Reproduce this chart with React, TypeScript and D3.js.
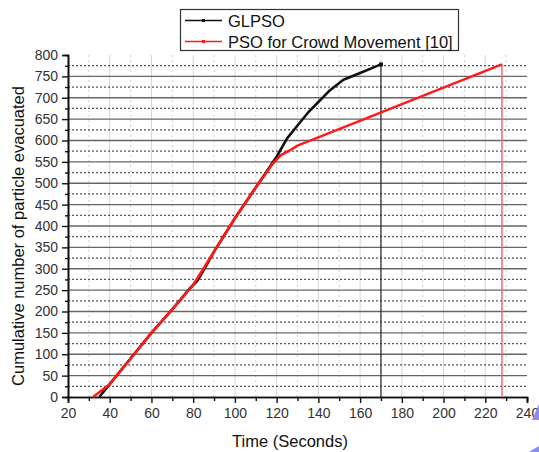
import React, { useEffect, useRef } from 'react';
import * as d3 from 'd3';

// GLPSO series (time in seconds, cumulative evacuated)
const glpsoTime = [35, 40, 50, 60, 70, 78, 82, 86, 90, 100, 110, 120, 125, 130, 135, 140, 145, 152, 160, 170];
const glpsoCount = [0, 30, 90, 150, 205, 252, 272, 305, 340, 418, 490, 562, 605, 635, 665, 690, 715, 742, 758, 778];

// PSO for Crowd Movement [10]
const psoTime = [32, 40, 50, 60, 70, 80, 90, 100, 110, 118, 122, 126, 130, 228];
const psoCount = [0, 30, 90, 150, 205, 262, 340, 418, 490, 545, 566, 576, 588, 778];

const xTicks = [20, 40, 60, 80, 100, 120, 140, 160, 180, 200, 220, 240];
const yTicks = [0, 50, 100, 150, 200, 250, 300, 350, 400, 450, 500, 550, 600, 650, 700, 750, 800];

const seriesNames = ['GLPSO', 'PSO for Crowd Movement [10]'];

export default function App() {
  const svgRef = useRef<SVGSVGElement>(null);

  useEffect(() => {
    const svg = d3.select(svgRef.current);
    svg.selectAll('*').remove();

    const left = 68, right = 527, top = 55, bottom = 397;
    const x = d3.scaleLinear().domain([20, 240]).range([left, right]);
    const y = d3.scaleLinear().domain([0, 800]).range([bottom, top]);
    const font = '"Liberation Sans", Arial, sans-serif';

    // vertical grid (light)
    const g = svg.append('g');
    d3.range(30, 240, 10).forEach(v => {
      const major = v % 20 === 0;
      g.append('line')
        .attr('x1', x(v)).attr('x2', x(v))
        .attr('y1', top).attr('y2', bottom)
        .attr('stroke', major ? '#d6d6d6' : '#cfcfcf')
        .attr('stroke-width', 1)
        .attr('stroke-dasharray', major ? null : '2,3');
    });

    // horizontal grid
    d3.range(25, 800, 25).forEach(v => {
      const major = v % 50 === 0;
      g.append('line')
        .attr('x1', left).attr('x2', right)
        .attr('y1', y(v)).attr('y2', y(v))
        .attr('stroke', major ? '#666' : '#555')
        .attr('stroke-width', major ? 1.3 : 1.2)
        .attr('stroke-dasharray', major ? null : '2,2');
    });

    // axes
    const yAxis = d3.axisLeft(y).tickValues(yTicks).tickSize(6).tickPadding(4);
    const yMinor = d3.axisLeft(y).tickValues(d3.range(25, 800, 50)).tickSize(3).tickFormat(() => '');
    const xAxis = d3.axisBottom(x).tickValues(xTicks).tickSize(6).tickPadding(5);
    const xMinor = d3.axisBottom(x).tickValues(d3.range(30, 240, 20)).tickSize(4).tickFormat(() => '');

    const styleAxis = (sel: any) => {
      sel.select('.domain').attr('stroke', '#111').attr('stroke-width', 1.6);
      sel.selectAll('.tick line').attr('stroke', '#111').attr('stroke-width', 1.4);
      sel.selectAll('.tick text').attr('fill', '#333').attr('font-size', 14).attr('font-family', font);
    };

    svg.append('g').attr('transform', `translate(${left},0)`).call(yMinor).call(styleAxis);
    svg.append('g').attr('transform', `translate(${left},0)`).call(yAxis).call(styleAxis);
    svg.append('g').attr('transform', `translate(0,${bottom})`).call(xMinor).call(styleAxis);
    svg.append('g').attr('transform', `translate(0,${bottom})`).call(xAxis).call(styleAxis);

    // drop lines at end of each series
    svg.append('line')
      .attr('x1', x(glpsoTime[glpsoTime.length - 1])).attr('x2', x(glpsoTime[glpsoTime.length - 1]))
      .attr('y1', y(glpsoCount[glpsoCount.length - 1])).attr('y2', y(0))
      .attr('stroke', '#222').attr('stroke-width', 1.2);
    svg.append('line')
      .attr('x1', x(psoTime[psoTime.length - 1])).attr('x2', x(psoTime[psoTime.length - 1]))
      .attr('y1', y(psoCount[psoCount.length - 1])).attr('y2', y(0))
      .attr('stroke', '#f46a6a').attr('stroke-width', 1.5);

    const line = d3.line<[number, number]>().x(d => x(d[0])).y(d => y(d[1]));
    const glpso = glpsoTime.map((t, i) => [t, glpsoCount[i]] as [number, number]);
    const pso = psoTime.map((t, i) => [t, psoCount[i]] as [number, number]);

    svg.append('path').attr('d', line(glpso)!).attr('fill', 'none')
      .attr('stroke', '#111').attr('stroke-width', 2.6).attr('stroke-linejoin', 'round');
    svg.append('path').attr('d', line(pso)!).attr('fill', 'none')
      .attr('stroke', '#ff1a1a').attr('stroke-width', 2.6).attr('stroke-linejoin', 'round');
    svg.append('rect').attr('x', x(170) - 2).attr('y', y(778) - 2).attr('width', 4).attr('height', 4).attr('fill', '#111');

    // axis titles
    svg.append('text').attr('x', 290).attr('y', 447).attr('text-anchor', 'middle')
      .attr('font-size', 16.5).attr('font-family', font).attr('fill', '#111').text('Time (Seconds)');
    svg.append('text').attr('transform', 'translate(24,236) rotate(-90)').attr('text-anchor', 'middle')
      .attr('font-size', 16.5).attr('font-family', font).attr('fill', '#111')
      .text('Cumulative number of particle evacuated');

    // legend
    const lg = svg.append('g');
    lg.append('rect').attr('x', 180.5).attr('y', 9.5).attr('width', 278).attr('height', 41)
      .attr('fill', '#fff').attr('stroke', '#333').attr('stroke-width', 1.2);
    const colors = ['#111', '#ff1a1a'];
    seriesNames.forEach((name, i) => {
      const yy = 20.5 + i * 21;
      lg.append('line').attr('x1', 185).attr('x2', 222).attr('y1', yy).attr('y2', yy)
        .attr('stroke', colors[i]).attr('stroke-width', 1.3);
      lg.append('rect').attr('x', 202).attr('y', yy - 1.5).attr('width', 3).attr('height', 3).attr('fill', colors[i]);
      lg.append('text').attr('x', 228).attr('y', yy + 6).attr('font-size', 16.5)
        .attr('font-family', font).attr('fill', '#111').text(name);
    });

    // corner decoration
    svg.append('path').attr('d', 'M539,404 L532,420 L539,420 Z').attr('fill', '#8a8cf2');
    svg.append('path').attr('d', 'M539,446 L529,452 L539,452 Z').attr('fill', '#8a8cf2');
  }, []);

  return (
    <svg ref={svgRef} width={539} height={452}
      style={{ position: 'absolute', left: 0, top: 0, background: '#fff' }} />
  );
}
